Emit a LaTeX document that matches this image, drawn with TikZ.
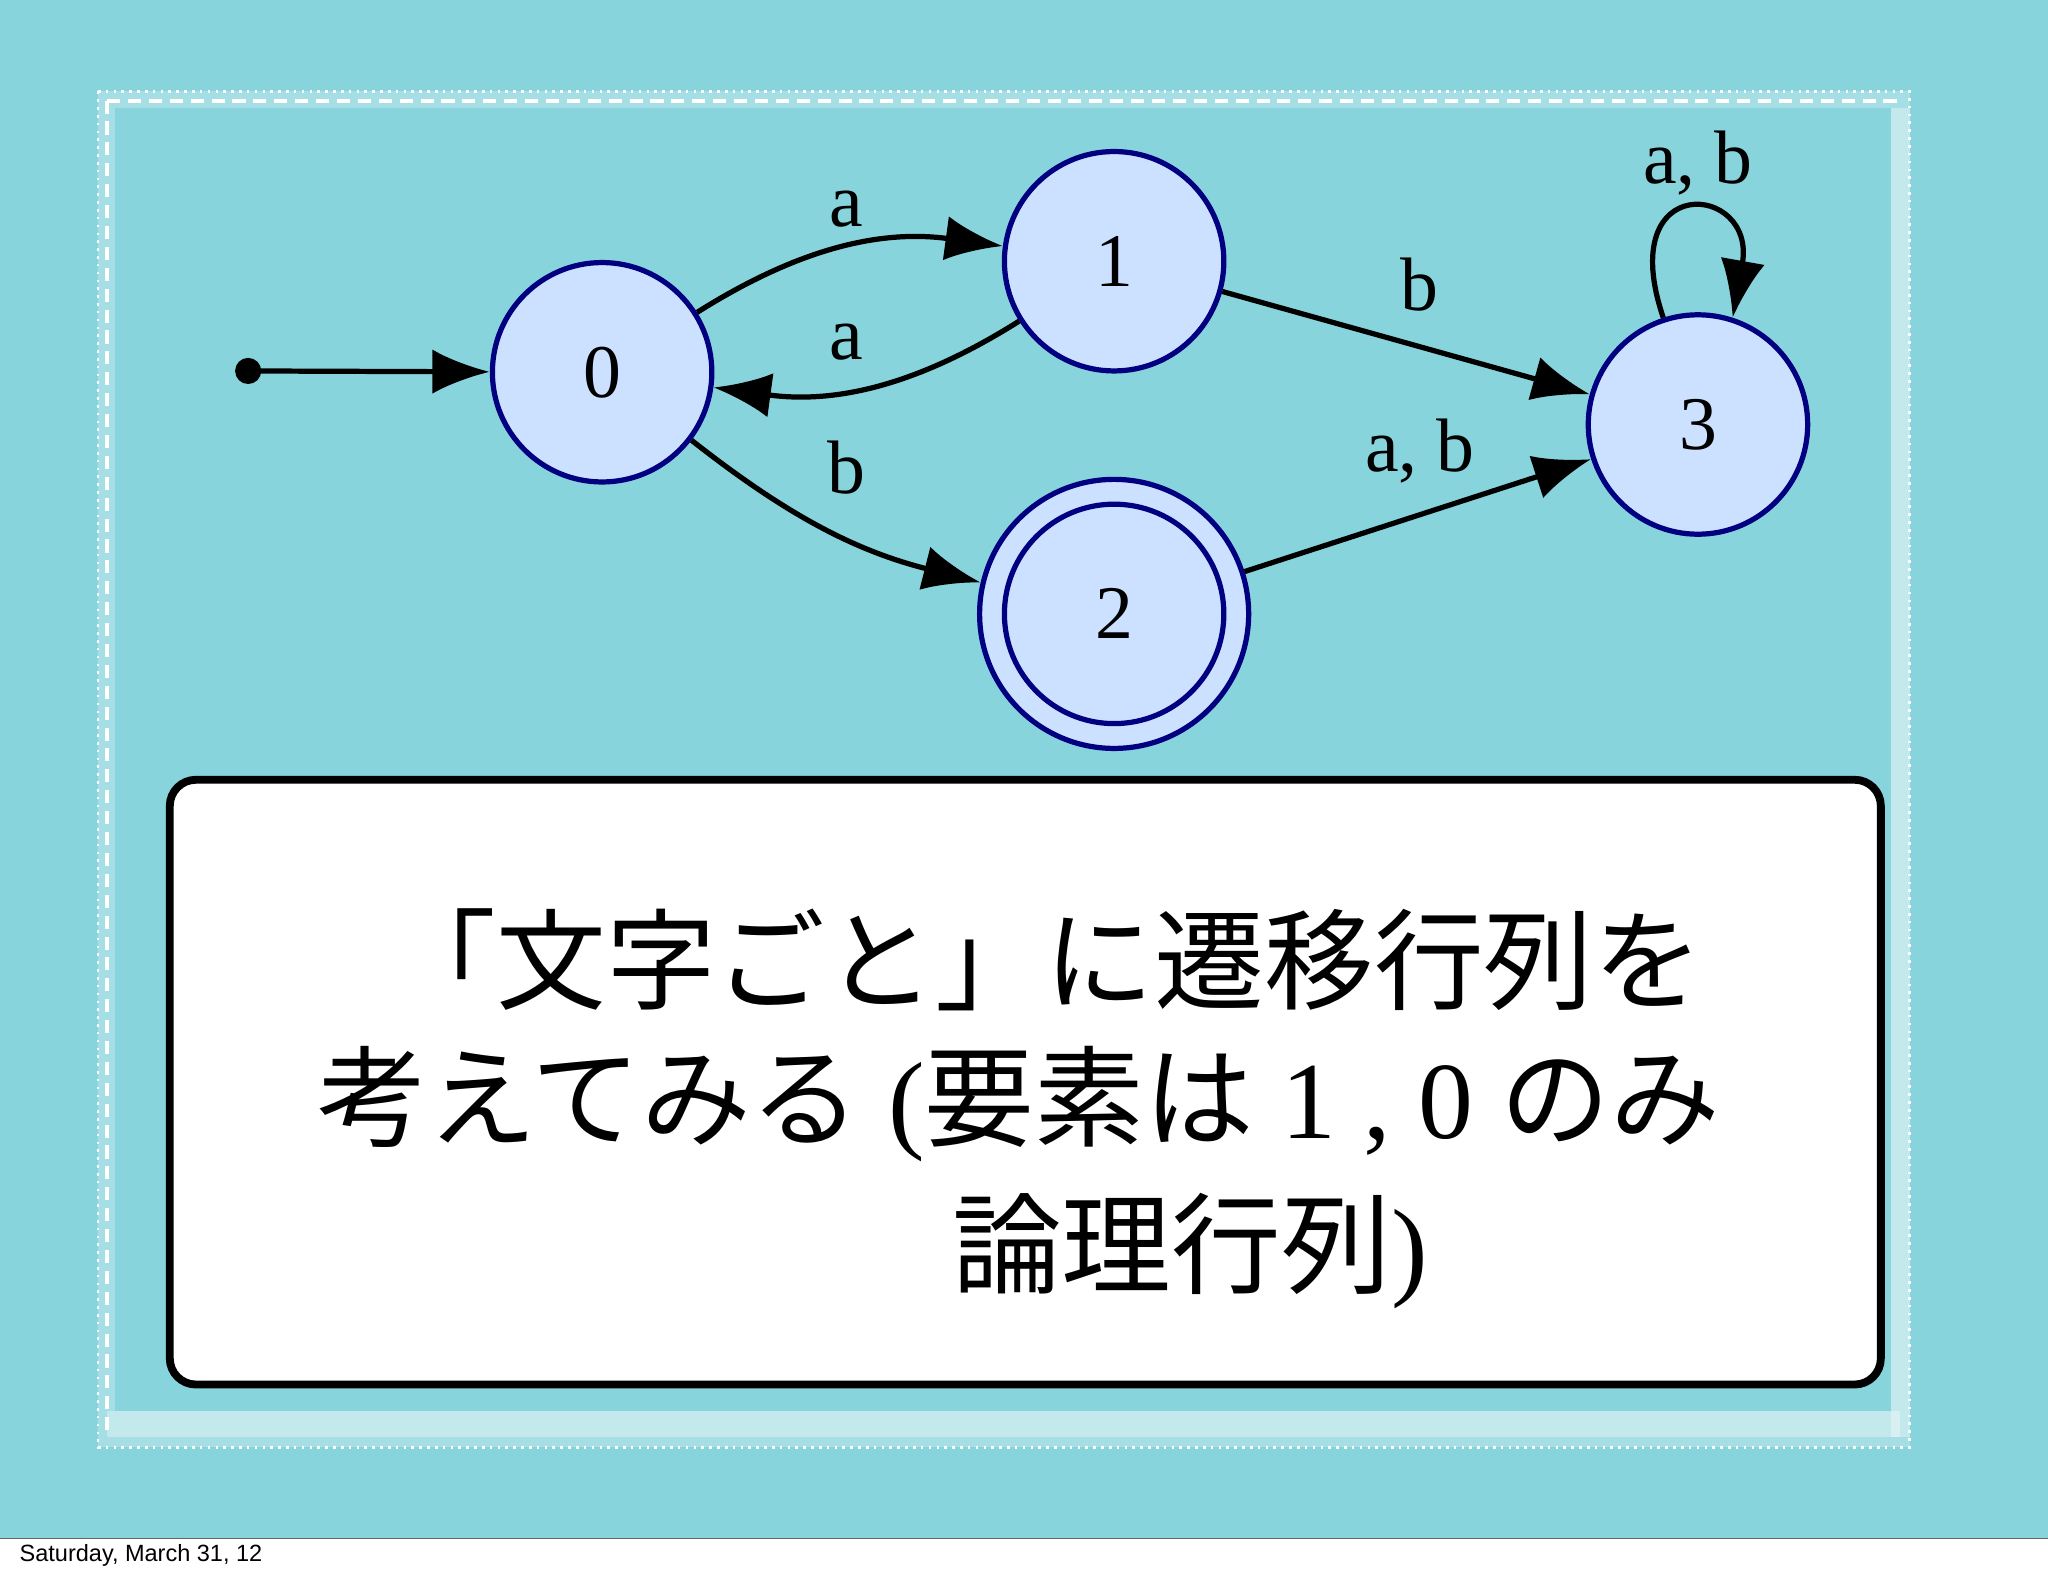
\documentclass[tikz,border=0pt]{standalone}
\usepackage{fontspec}
\setmainfont{Liberation Serif}
\newfontfamily\cjk{Noto Sans CJK JP}
\newfontfamily\sans{Liberation Sans}
\usetikzlibrary{arrows.meta}
\definecolor{bg}{HTML}{88D4DC}
\definecolor{nfill}{HTML}{CCE0FF}
\definecolor{nedge}{HTML}{000080}
\tikzset{
 st/.style={circle,draw=nedge,fill=nfill,line width=2pt,minimum size=84pt,inner sep=0pt,font=\fontsize{29}{30}\selectfont},
 ed/.style={line width=2pt,-{Latex[length=22pt,width=17pt]}},
 lb/.style={font=\fontsize{29}{30}\selectfont},
}
\begin{document}
\begin{tikzpicture}[x=0.5pt,y=-0.5pt]
\useasboundingbox (0,0) rectangle (1568,1206);
\fill[white] (0,0) rectangle (1568,1206);
\fill[bg] (0,0) rectangle (1568,1178);
\fill[white,opacity=0.25] (75,70) rectangle (1462,1108);
\fill[bg] (88,83) rectangle (1448,1080);
\draw[white,line width=1pt,dotted] (75,70) rectangle (1462,1108);
\draw[white,line width=1.5pt,dash pattern=on 5pt off 3pt] (82,77) -- (1455,77);
\draw[white,line width=1.5pt,dash pattern=on 5pt off 3pt] (82,77) -- (82,1100);
\fill[white,opacity=0.35] (82,1080) rectangle (1455,1100);
\fill[white,opacity=0.35] (1448,83) rectangle (1462,1100);
\draw[black!60,line width=0.5pt] (0,1178) -- (1568,1178);
\node[anchor=west,font=\sans\fontsize{9}{10}\selectfont] (foot) at (8,1191) {Saturday, March 31, 12};

\node[st] (s0) at (461,285) {0};
\node[st] (s1) at (853,200) {1};
\node[st,minimum size=103pt] (s2o) at (853,470) {};
\node[st] (s2) at (853,470) {2};
\node[st] (s3) at (1300,325) {3};
\fill (190,284) circle (10);
\coordinate (startc) at (190,284);
\draw[ed] (startc) -- (s0);
\draw[ed] (s0) to[bend left=20] (s1);
\draw[ed] (s1) to[bend left=20] (s0);
\draw[ed] (s0) to[bend right=12] (s2o);
\draw[ed] (s1) -- (s3);
\draw[ed] (s2o) -- (s3);
\draw[ed] (s3.108) .. controls (1235,130) and (1345,140) .. (s3.72);
\node[lb] (l1) at (648,160) {a};
\node[lb] (l2) at (648,262) {a};
\node[lb] (l3) at (648,358) {b};
\node[lb] (l4) at (1087,218) {b};
\node[lb] (l5) at (1087,345) {a, b};
\node[lb] (l6) at (1300,125) {a, b};

\draw[black,fill=white,line width=3pt,rounded corners=10pt] (130,597) rectangle (1440,1060);
\node[anchor=center,font=\fontsize{42}{48}\selectfont] (t1) at (800,735) {\cjk 「文字ごと」に遷移行列を};
\node[anchor=center,font=\fontsize{42}{48}\selectfont] (t2) at (780,845) {{\cjk 考えてみる} ({\cjk 要素は} 1 , 0 {\cjk のみ}};
\node[anchor=west,font=\fontsize{42}{48}\selectfont] (t3) at (722,958) {{\cjk 論理行列})};
\end{tikzpicture}
\end{document}
